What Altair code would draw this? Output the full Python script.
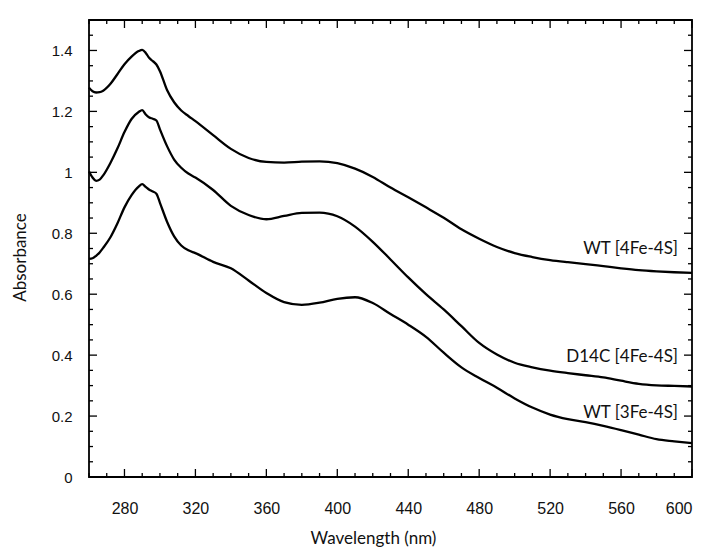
import altair as alt
import pandas as pd

# ---- data ----
wavelength = [260, 262, 264, 266, 268, 272, 276, 280, 284, 288, 290, 292, 294, 296, 298, 300,
              304, 308, 312, 316, 320, 330, 340, 350, 360, 370, 380, 390, 400, 410,
              420, 430, 440, 450, 460, 470, 480, 490, 500, 510, 520, 530, 540, 550,
              560, 570, 580, 590, 600]

wt_4fe4s = [1.278, 1.266, 1.262, 1.263, 1.268, 1.290, 1.322, 1.355, 1.380, 1.398, 1.402, 1.392,
            1.375, 1.365, 1.354, 1.332, 1.270, 1.230, 1.203, 1.185, 1.168, 1.122, 1.077, 1.047,
            1.034, 1.032, 1.035, 1.036, 1.030, 1.012, 0.985, 0.950, 0.918, 0.885, 0.851,
            0.813, 0.782, 0.755, 0.735, 0.722, 0.712, 0.705, 0.699, 0.692, 0.685, 0.679,
            0.675, 0.672, 0.670]

d14c_4fe4s = [1.003, 0.983, 0.972, 0.976, 0.990, 1.030, 1.078, 1.132, 1.175, 1.198, 1.204, 1.190,
              1.180, 1.176, 1.170, 1.141, 1.086, 1.042, 1.015, 0.996, 0.983, 0.942, 0.890, 0.860,
              0.846, 0.857, 0.867, 0.868, 0.856, 0.822, 0.772, 0.714, 0.655, 0.600, 0.550,
              0.495, 0.440, 0.402, 0.375, 0.360, 0.349, 0.341, 0.334, 0.327, 0.316, 0.306,
              0.301, 0.299, 0.297]

wt_3fe4s = [0.716, 0.718, 0.726, 0.737, 0.752, 0.786, 0.832, 0.885, 0.925, 0.953, 0.961, 0.952,
            0.943, 0.937, 0.930, 0.900, 0.838, 0.790, 0.760, 0.744, 0.735, 0.706, 0.685, 0.645,
            0.604, 0.574, 0.565, 0.572, 0.585, 0.590, 0.571, 0.535, 0.500, 0.460, 0.408,
            0.360, 0.325, 0.293, 0.258, 0.228, 0.205, 0.190, 0.180, 0.168, 0.154, 0.139,
            0.124, 0.117, 0.111]

series_names = ["WT [4Fe-4S]", "D14C [4Fe-4S]", "WT [3Fe-4S]"]
label_wavelength = [600, 600, 600]
label_absorbance = [0.75, 0.395, 0.21]

x_major = [280, 320, 360, 400, 440, 480, 520, 560, 600]
x_minor = [v for v in range(260, 601, 10) if v not in x_major]
y_major = [0, 0.2, 0.4, 0.6, 0.8, 1.0, 1.2, 1.4]
y_minor = [round(0.05 * i, 2) for i in range(0, 31) if round(0.05 * i, 2) not in [round(v, 2) for v in y_major]]

# ---- tables ----
rows = []
for name, vals in zip(series_names, [wt_4fe4s, d14c_4fe4s, wt_3fe4s]):
    for w, a in zip(wavelength, vals):
        rows.append({"series": name, "wl": w, "abs": a})
df = pd.DataFrame(rows)
labels_df = pd.DataFrame({"series": series_names, "wl": label_wavelength, "abs": label_absorbance})

W, H = 603, 457
MAJ, MIN = 8, 4

xscale = alt.Scale(domain=[260, 600], nice=False, zero=False)
yscale = alt.Scale(domain=[0, 1.5], nice=False, zero=False)

x_axis = alt.Axis(values=x_major, format="d", title="Wavelength (nm)", ticks=False, tickSize=0,
                  domain=False, grid=False, labelFont="Liberation Sans", labelFontSize=16,
                  labelColor="#111", labelPadding=23, titleFont="Lato", titleFontSize=17,
                  titleFontWeight="normal", titleColor="#111", titleX=284, titleY=61,
                  titleBaseline="middle", titleAlign="center")
y_axis = alt.Axis(values=y_major, format="~g", title="Absorbance", ticks=False, tickSize=0,
                  domain=False, grid=False, labelFont="Liberation Sans", labelFontSize=15,
                  labelColor="#111", labelPadding=17, titleFont="Lato", titleFontSize=17,
                  titleFontWeight="normal", titleColor="#111", titleX=-69, titleY=237,
                  titleAngle=-90, titleBaseline="middle", titleAlign="center")

X = lambda: alt.X("wl:Q", scale=xscale, axis=x_axis)
Y = lambda: alt.Y("abs:Q", scale=yscale, axis=y_axis)

lines = alt.Chart(df).mark_line(color="black", strokeWidth=2.3, interpolate="monotone").encode(
    x=X(), y=Y(), detail="series:N",
)

text = alt.Chart(labels_df).mark_text(align="right", baseline="middle", dx=-14, font="Lato",
                                      fontSize=17, color="#111").encode(
    x=X(), y=Y(), text="series:N")

xmaj = pd.DataFrame({"wl": x_major})
xmin = pd.DataFrame({"wl": x_minor})
ymaj = pd.DataFrame({"abs": y_major})
ymin = pd.DataFrame({"abs": y_minor})

def xticks(d, L):
    b = alt.Chart(d).mark_rule(color="black", strokeWidth=1.3).encode(
        x=X(), y=alt.value(H), y2=alt.value(H - L))
    t = alt.Chart(d).mark_rule(color="black", strokeWidth=1.3).encode(
        x=X(), y=alt.value(0), y2=alt.value(L))
    return b + t

def yticks(d, L):
    l = alt.Chart(d).mark_rule(color="black", strokeWidth=1.3).encode(
        y=Y(), x=alt.value(0), x2=alt.value(L))
    r = alt.Chart(d).mark_rule(color="black", strokeWidth=1.3).encode(
        y=Y(), x=alt.value(W), x2=alt.value(W - L))
    return l + r

chart = alt.layer(
    lines, text,
    xticks(xmaj, MAJ), xticks(xmin, MIN), yticks(ymaj, MAJ), yticks(ymin, MIN),
).properties(
    width=W, height=H,
    autosize=alt.AutoSizeParams(type="none"),
    padding={"left": 89, "top": 20, "right": 18, "bottom": 71},
    background="white",
).configure_view(stroke="black", strokeWidth=1.8)

chart.save("out.html", embed_options={"renderer": "svg", "actions": False})
